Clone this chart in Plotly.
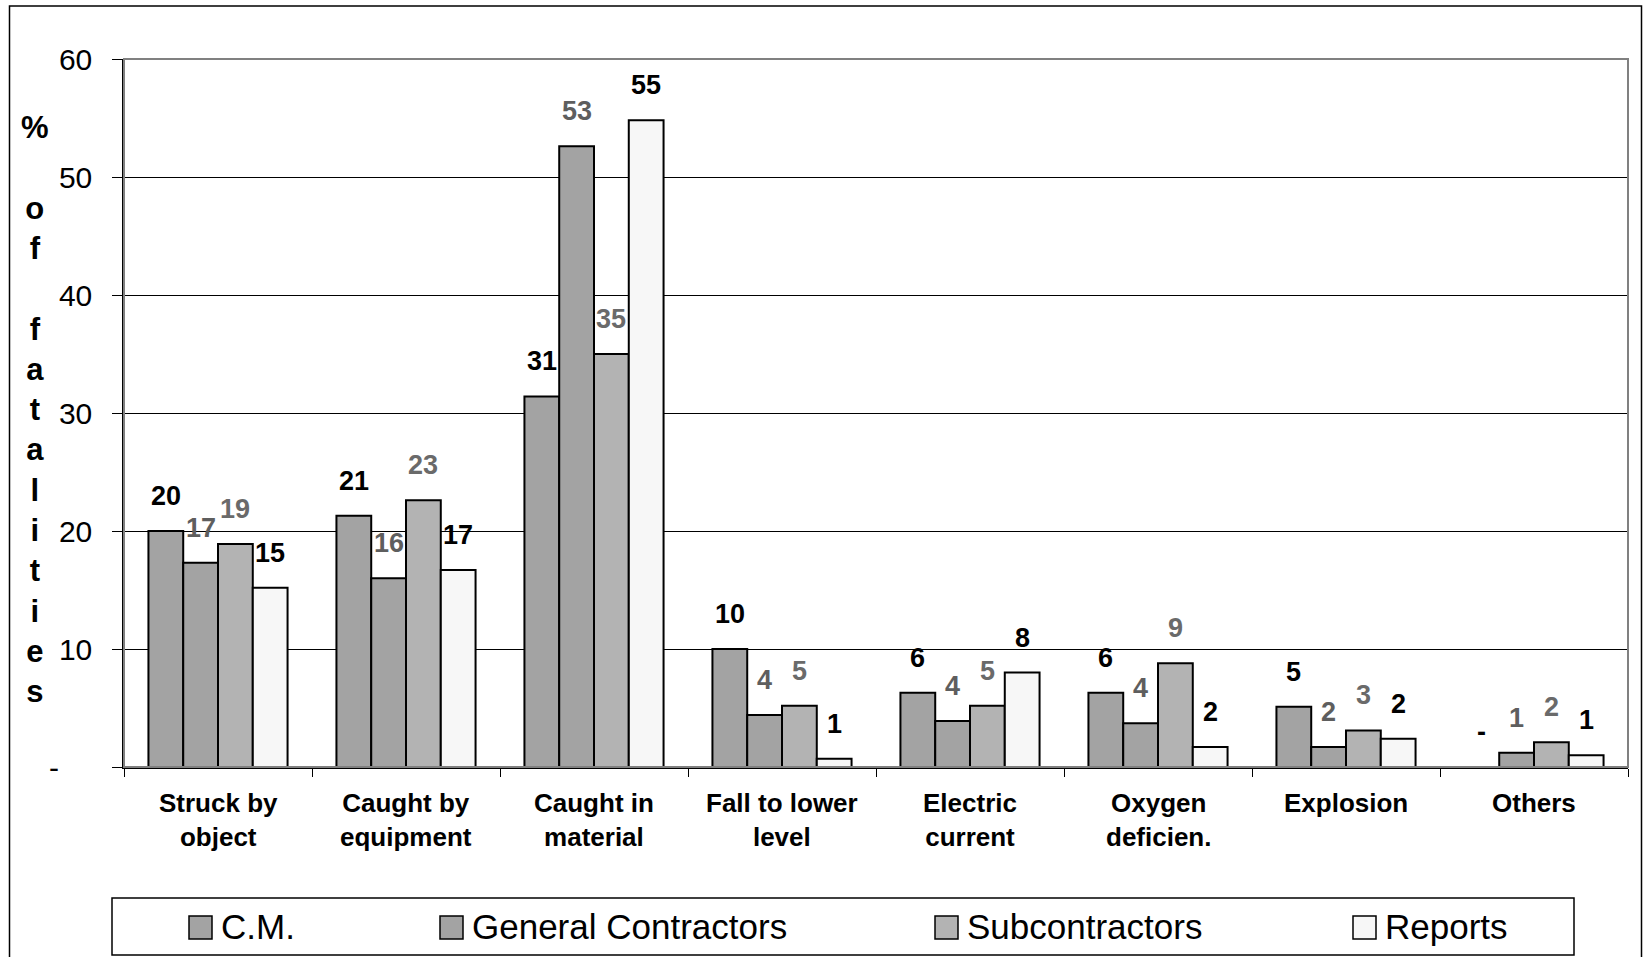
import plotly.graph_objects as go

# Accident categories (x axis) and the four sources of data
categories = ["Struck by<br>object", "Caught by<br>equipment", "Caught in<br>material",
              "Fall to lower<br>level", "Electric<br>current", "Oxygen<br>deficien.",
              "Explosion", "Others"]
series_names = ["C.M.", "General Contractors", "Subcontractors", "Reports"]

# % of fatalities per category
cm_vals = [20.0, 21.3, 31.4, 10.0, 6.3, 6.3, 5.1, 0.0]
gc_vals = [17.3, 16.0, 52.6, 4.4, 3.9, 3.7, 1.7, 1.2]
sub_vals = [18.9, 22.6, 35.0, 5.2, 5.2, 8.8, 3.1, 2.1]
rep_vals = [15.2, 16.7, 54.8, 0.7, 8.0, 1.7, 2.4, 1.0]

y_ticks = [0, 10, 20, 30, 40, 50, 60]

# Styling
FONT = "Arial, Liberation Sans, sans-serif"
fills = ["#a3a3a3", "#a3a3a3", "#b3b3b3", "#f7f7f7"]
label_colors = ["#000000", "#5e5e5e", "#6a6a6a", "#000000"]
bar_w = 0.185

W, H = 1652, 957
ML, MR, MT, MB = 124, 24, 59, 190
PW, PH = W - ML - MR, H - MT - MB


def px_x(p):
    return (p - ML) / PW


def px_y(p):
    return (H - MB - p) / PH


all_series = [cm_vals, gc_vals, sub_vals, rep_vals]
fig = go.Figure()
annotations = []

for j, (name, vals) in enumerate(zip(series_names, all_series)):
    xs = [k + (j - 1.5) * bar_w for k in range(len(categories))]
    fig.add_trace(go.Bar(
        x=xs, y=vals, width=bar_w, name=name, showlegend=False,
        marker=dict(color=fills[j], line=dict(color="#000000", width=2)),
        hoverinfo="y",
    ))
    for x, v in zip(xs, vals):
        annotations.append(dict(
            x=x, y=v, xref="x", yref="y", text="-" if v == 0 else f"{v:.0f}",
            showarrow=False, yanchor="middle", yshift=35,
            font=dict(family=FONT, size=27, color=label_colors[j], weight="bold"),
        ))

# Category names under each group
for k, c in enumerate(categories):
    annotations.append(dict(
        x=k, y=0, xref="x", yref="y", text=c, showarrow=False,
        yanchor="top", yshift=-19,
        font=dict(family=FONT, size=26, color="#000000", weight="bold"),
    ))

# Stacked vertical axis title
title_chars = ["%", "\u00a0", "o", "f", "\u00a0", "f", "a", "t", "a", "l", "i", "t", "i", "e", "s"]
annotations.append(dict(
    x=px_x(35), y=px_y(409), xref="paper", yref="paper", text="<br>".join(title_chars),
    showarrow=False, xanchor="center", yanchor="middle",
    font=dict(family=FONT, size=31, color="#000000", weight="bold"),
))

shapes = []
# Plot-area frame (top and right edges)
shapes.append(dict(type="rect", xref="paper", yref="paper", x0=0, x1=1, y0=0, y1=1,
                   line=dict(color="#808080", width=2), layer="above"))
# Outer chart frame
shapes.append(dict(type="rect", xref="paper", yref="paper",
                   x0=px_x(9.5), x1=px_x(1641.5), y0=px_y(990), y1=px_y(6),
                   line=dict(color="#000000", width=1.5)))
# Legend box
shapes.append(dict(type="rect", xref="paper", yref="paper",
                   x0=px_x(112), x1=px_x(1574), y0=px_y(955), y1=px_y(898),
                   line=dict(color="#000000", width=1.5), fillcolor="#ffffff"))

legend_left = [189, 440, 935, 1353]
for j, name in enumerate(series_names):
    x0 = legend_left[j]
    shapes.append(dict(type="rect", xref="paper", yref="paper",
                       x0=px_x(x0), x1=px_x(x0 + 23), y0=px_y(939), y1=px_y(916),
                       line=dict(color="#000000", width=1.5), fillcolor=fills[j]))
    annotations.append(dict(
        x=px_x(x0 + 30), y=px_y(926), xref="paper", yref="paper", text=name,
        showarrow=False, xanchor="left", yanchor="middle",
        font=dict(family=FONT, size=35, color="#000000"),
    ))

fig.update_layout(
    width=W, height=H,
    margin=dict(l=ML, r=MR, t=MT, b=MB),
    paper_bgcolor="#ffffff", plot_bgcolor="#ffffff",
    barmode="overlay", showlegend=False,
    font=dict(family=FONT, color="#000000"),
    annotations=annotations, shapes=shapes,
    xaxis=dict(
        range=[-0.5, len(categories) - 0.5],
        tickvals=[k - 0.5 for k in range(len(categories) + 1)],
        showticklabels=False, ticks="outside", ticklen=8, tickcolor="#000000",
        showline=True, linecolor="#000000", linewidth=1.5,
        showgrid=False, zeroline=False, fixedrange=True,
    ),
    yaxis=dict(
        range=[0, 60], tickvals=y_ticks,
        ticktext=["-" + "\u00a0" * 4 if t == 0 else str(t) for t in y_ticks],
        ticks="outside", ticklen=10, tickcolor="#000000", ticklabelstandoff=14,
        tickfont=dict(family=FONT, size=30, color="#000000"),
        showline=True, linecolor="#000000", linewidth=1.5,
        showgrid=True, gridcolor="#000000", gridwidth=1,
        zeroline=False, fixedrange=True,
    ),
)

fig.write_html("out.html")
